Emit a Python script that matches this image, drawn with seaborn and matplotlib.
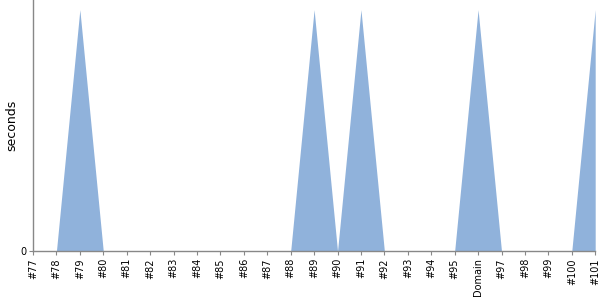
import matplotlib
matplotlib.use("Agg")
import matplotlib.pyplot as plt
import seaborn as sns
import pandas as pd

labels = ["#77", "#78", "#79", "#80", "#81", "#82", "#83", "#84", "#85", "#86",
          "#87", "#88", "#89", "#90", "#91", "#92", "#93", "#94", "#95", "Domain",
          "#97", "#98", "#99", "#100", "#101"]
seconds = [0, 0, 1, 0, 0, 0, 0, 0, 0, 0,
           0, 0, 1, 0, 1, 0, 0, 0, 0, 1,
           0, 0, 0, 0, 1]

sns.set_style("white")
plt.rcParams['font.family'] = ['DejaVu Sans']

df = pd.DataFrame({"idx": range(len(labels)), "label": labels, "seconds": seconds})

fig = plt.figure(figsize=(6, 3), dpi=100)
ax = fig.add_axes([0.055, 0.163, 0.937, 0.837])
color = "#90b2db"
sns.lineplot(data=df, x="idx", y="seconds", ax=ax, color=color, linewidth=0)
ax.fill_between(df["idx"], df["seconds"], 0, color=color, linewidth=0)

ax.set_xlim(0, len(labels) - 1)
ax.set_ylim(0, 1.04)
ax.set_xticks(df["idx"])
ax.set_xticklabels(labels, rotation=90, fontsize=7, color="black")
ax.set_yticks([0])
ax.set_yticklabels(["0"], fontsize=7, color="black")
ax.set_xlabel("")
ax.set_ylabel("seconds", fontsize=9, color="black")
ax.yaxis.set_label_coords(-0.027, 0.5)
for s in ["top", "right"]:
    ax.spines[s].set_visible(False)
for s in ["left", "bottom"]:
    ax.spines[s].set_color("#888888")
    ax.spines[s].set_linewidth(1)
ax.tick_params(axis="both", length=3, color="#888888", pad=2, bottom=True, left=True)

fig.savefig("out.png", dpi=100)
